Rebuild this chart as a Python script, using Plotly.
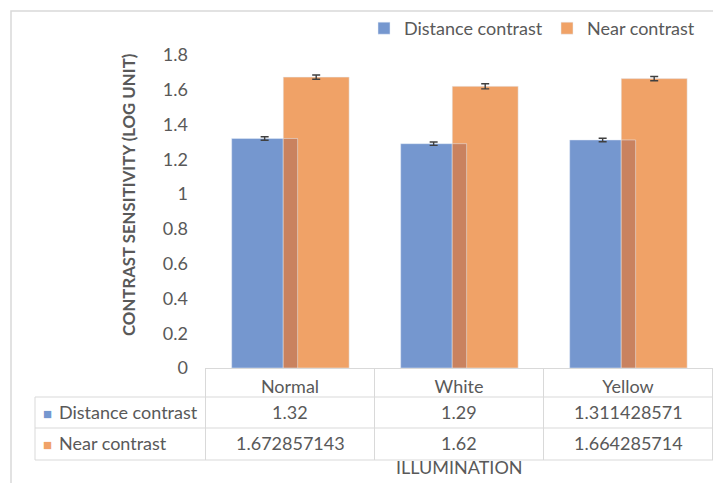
import plotly.graph_objects as go

categories = ["Normal", "White", "Yellow"]
distance = [1.32, 1.29, 1.311428571]
near = [1.672857143, 1.62, 1.664285714]
distance_err = [0.01, 0.01, 0.01]
near_err = [0.012, 0.015, 0.012]
distance_labels = ["1.32", "1.29", "1.311428571"]
near_labels = ["1.672857143", "1.62", "1.664285714"]
series_names = ["Distance contrast", "Near contrast"]
y_ticks = [0, 0.2, 0.4, 0.6, 0.8, 1, 1.2, 1.4, 1.6, 1.8]

BLUE = "#7597cf"
ORANGE = "#f0a267"
OVERLAP = "#c9825f"
TXT = "#595959"
FONT = "Lato"
FS = 18
W, H = 713, 483

def py(px):
    return 1 - px / H

def pxx(px):
    return px / W

fig = go.Figure()
err_style = dict(type="data", thickness=1.4, width=4, color="#404040")
fig.add_trace(go.Bar(x=categories, y=distance, name=series_names[0], marker_color=BLUE,
                     offset=-0.345, width=0.39, error_y=dict(array=distance_err, **err_style),
                     legend="legend"))
fig.add_trace(go.Bar(x=categories, y=near, name=series_names[1], marker_color=ORANGE,
                     offset=-0.04, width=0.39, error_y=dict(array=near_err, **err_style),
                     legend="legend2"))
fig.add_trace(go.Bar(x=categories, y=distance, name="overlap", marker_color=OVERLAP,
                     offset=-0.04, width=0.085, showlegend=False, hoverinfo="skip"))

shapes = []
shapes.append(dict(type="rect", xref="paper", yref="paper", x0=pxx(11), x1=1.2, y0=-0.2, y1=py(11),
                   line=dict(color="#d9d9d9", width=1.5), fillcolor="rgba(0,0,0,0)", layer="below"))
for b in [-0.5, 0.5, 1.5, 2.5]:
    shapes.append(dict(type="line", xref="x", yref="paper", x0=b, x1=b, y0=py(460), y1=py(369),
                       line=dict(color="#d9d9d9", width=1)))
shapes.append(dict(type="line", xref="paper", yref="paper", x0=pxx(35), x1=pxx(35), y0=py(460), y1=py(397),
                   line=dict(color="#d9d9d9", width=1)))
for yy in [397, 428, 460]:
    shapes.append(dict(type="line", xref="paper", yref="paper", x0=pxx(35), x1=1.1, y0=py(yy), y1=py(yy),
                       line=dict(color="#d9d9d9", width=1)))

annotations = []
row_y = [412, 443]
row_vals = [distance_labels, near_labels]
row_cols = [BLUE, ORANGE]
for name, yy, vals, col in zip(series_names, row_y, row_vals, row_cols):
    annotations.append(dict(text="■", x=pxx(41), y=py(yy + 1), xref="paper", yref="paper", xanchor="left",
                            yanchor="middle", showarrow=False, font=dict(size=15, color=col, family=FONT)))
    annotations.append(dict(text=name, x=pxx(57), y=py(yy), xref="paper", yref="paper", xanchor="left",
                            yanchor="middle", showarrow=False, font=dict(size=FS, color=TXT, family=FONT)))
    for c, v in zip(categories, vals):
        annotations.append(dict(text=v, x=c, y=py(yy), xref="x", yref="paper", xanchor="center",
                                yanchor="middle", showarrow=False, font=dict(size=FS, color=TXT, family=FONT)))
annotations.append(dict(text="ILLUMINATION", x=0.5, y=py(467), xref="x domain", yref="paper",
                        xanchor="center", yanchor="middle", showarrow=False,
                        font=dict(size=FS, color=TXT, family=FONT)))
annotations.append(dict(text="<b>CONTRAST SENSITIVITY (LOG UNIT)</b>", x=pxx(128), y=py(195), xref="paper",
                        yref="paper", xanchor="center", yanchor="middle", textangle=-90, showarrow=False,
                        font=dict(size=16.8, color=TXT, family=FONT)))

leg_common = dict(orientation="h", xanchor="left", yanchor="top", itemwidth=30,
                  font=dict(size=18, color=TXT, family=FONT), bgcolor="rgba(0,0,0,0)")

fig.update_layout(
    width=W, height=H,
    margin=dict(l=0, r=0, t=0, b=0),
    paper_bgcolor="white", plot_bgcolor="white",
    barmode="overlay",
    font=dict(family=FONT, color=TXT, size=FS),
    showlegend=True,
    legend=dict(x=pxx(364), y=py(10), **leg_common),
    legend2=dict(x=pxx(547), y=py(10), **leg_common),
    xaxis=dict(domain=[pxx(205), 1], showgrid=False, showline=True, linecolor="#d9d9d9", linewidth=1,
               ticks="", tickfont=dict(size=FS, color=TXT, family=FONT), ticklabelstandoff=2,
               automargin=False),
    yaxis=dict(domain=[py(368), py(55)], range=[0, 1.8], tickvals=y_ticks,
               ticktext=[("%g" % t) for t in y_ticks], showgrid=False, showline=False, zeroline=False,
               ticks="", tickfont=dict(size=FS, color=TXT, family=FONT), ticklabelstandoff=16,
               automargin=False),
    shapes=shapes,
    annotations=annotations,
)

fig.write_html("out.html", config={"displayModeBar": False},
               post_script="document.body.style.margin='0px';")
